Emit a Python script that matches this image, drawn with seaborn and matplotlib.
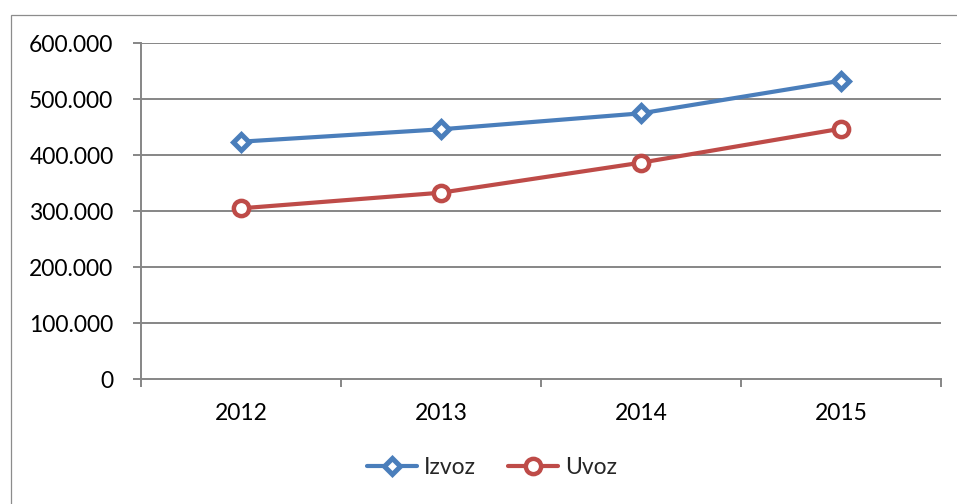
import matplotlib
matplotlib.use("Agg")
import matplotlib.pyplot as plt
import matplotlib.ticker as mticker
from matplotlib.patches import Rectangle
import seaborn as sns

# Trade values per year
years = [2012, 2013, 2014, 2015]
izvoz = [423800, 445900, 474400, 532700]
uvoz = [304800, 332700, 386300, 447000]
y_ticks = [0, 100000, 200000, 300000, 400000, 500000, 600000]

sns.set_theme(style="white")
plt.rcParams["font.family"] = ["Lato", "DejaVu Sans"]

BLUE = "#4A7EBB"
RED = "#BE4B48"
GRID = "#868686"
FS = 16.5

fig = plt.figure(figsize=(9.57, 5.04), dpi=100)
ax = fig.add_axes([141 / 957, 1 - 379 / 504, 800 / 957, 336 / 504])

sns.lineplot(x=years, y=izvoz, ax=ax, color=BLUE, lw=3.0, marker="D", ms=8.5,
             markerfacecolor="white", markeredgecolor=BLUE, markeredgewidth=3.6,
             label="Izvoz", zorder=4)
sns.lineplot(x=years, y=uvoz, ax=ax, color=RED, lw=3.0, marker="o", ms=11,
             markerfacecolor="white", markeredgecolor=RED, markeredgewidth=3.2,
             label="Uvoz", zorder=4)

ax.set_xlim(years[0] - 0.5, years[-1] + 0.5)
ax.set_ylim(y_ticks[0], y_ticks[-1])
ax.set_yticks(y_ticks)
ax.yaxis.set_major_formatter(mticker.FuncFormatter(
    lambda v, _: "0" if v == 0 else f"{int(v):,}".replace(",", ".")))
ax.set_xticks(years)
ax.set_xticklabels([str(y) for y in years])
ax.set_xticks([y + 0.5 for y in [years[0] - 1] + years], minor=True)
ax.set_xlabel("")
ax.set_ylabel("")

for v in y_ticks[1:]:
    ax.axhline(v, color=GRID, lw=1.4, zorder=1)

for side in ["top", "right"]:
    ax.spines[side].set_visible(False)
for side in ["left", "bottom"]:
    ax.spines[side].set_color(GRID)
    ax.spines[side].set_linewidth(1.4)

ax.tick_params(axis="y", which="major", length=5.8, width=1.4, color=GRID,
               pad=14, labelsize=FS, labelcolor="black", left=True)
ax.tick_params(axis="x", which="major", length=0, pad=17, labelsize=FS,
               labelcolor="black")
ax.tick_params(axis="x", which="minor", length=5.5, width=1.4, color=GRID,
               bottom=True)

ax.legend(loc="center", bbox_to_anchor=(492 / 957, 1 - 468 / 504),
          bbox_transform=fig.transFigure, ncol=2, frameon=False, fontsize=FS,
          handlelength=2.2, handletextpad=0.3, columnspacing=1.4)

# Outer chart border
fig.patches.append(Rectangle((11 / 957, -0.1), 1.2, 0.1 + 1 - 15 / 504,
                             transform=fig.transFigure, fill=False,
                             edgecolor="#8c8c8c", lw=0.9, zorder=0))

fig.savefig("out.png", dpi=100, facecolor="white")
